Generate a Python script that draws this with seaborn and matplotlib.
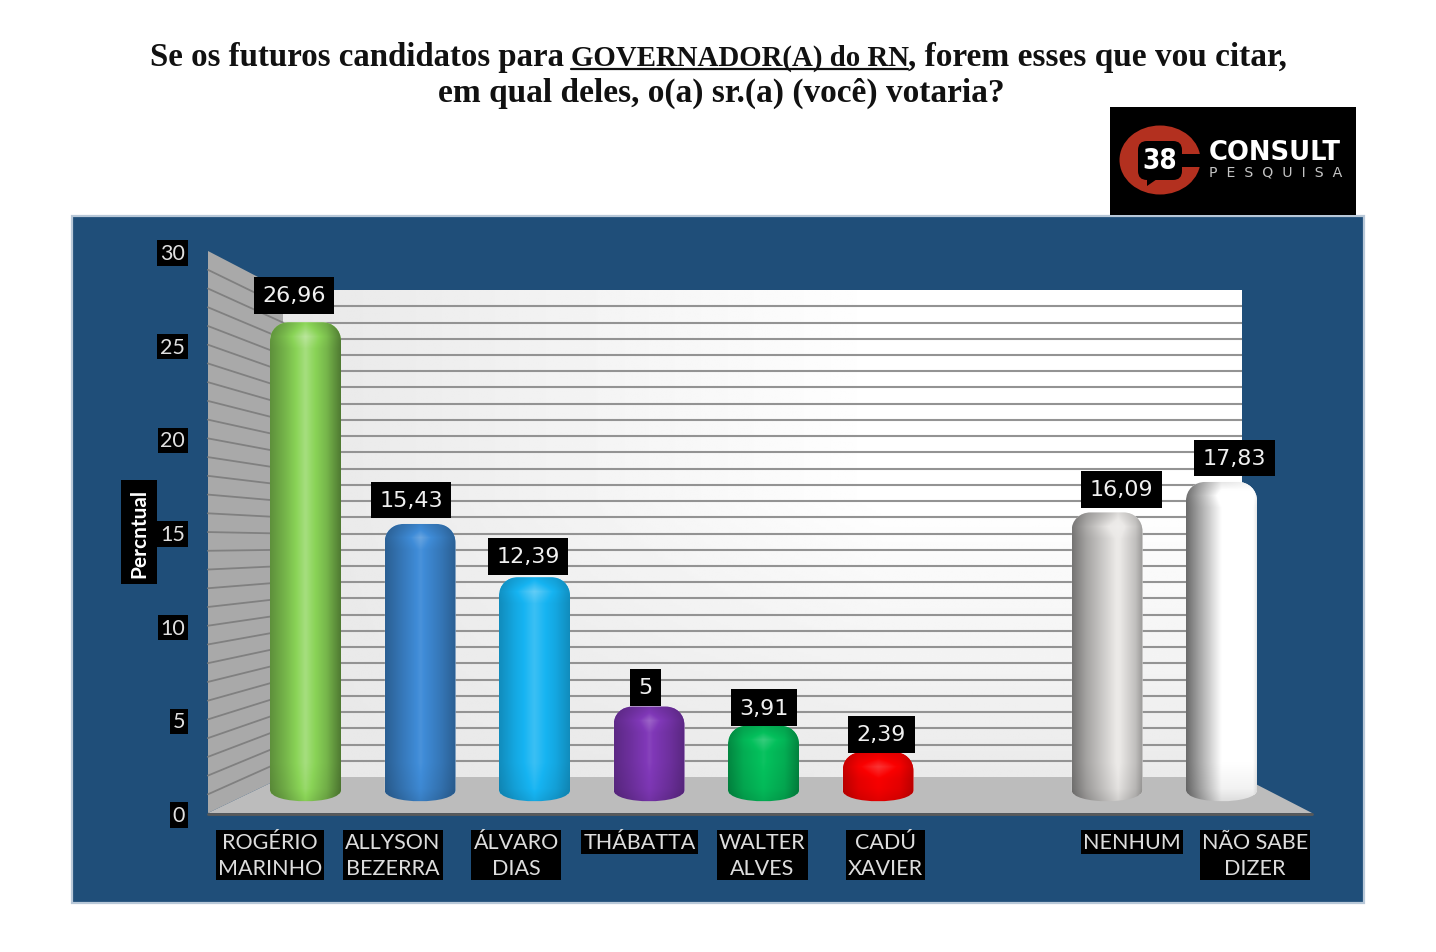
import numpy as np
import pandas as pd
import seaborn as sns
import matplotlib
matplotlib.use("Agg")
import matplotlib.pyplot as plt
from matplotlib.patches import Rectangle, Polygon, Ellipse, FancyBboxPatch, PathPatch
from matplotlib.path import Path

# ---- data ----
categories = ["ROGÉRIO\nMARINHO", "ALLYSON\nBEZERRA", "ÁLVARO\nDIAS", "THÁBATTA",
              "WALTER\nALVES", "CADÚ\nXAVIER", "NENHUM", "NÃO SABE\nDIZER"]
values = [26.96, 15.43, 12.39, 5, 3.91, 2.39, 16.09, 17.83]
value_labels = ["26,96", "15,43", "12,39", "5", "3,91", "2,39", "16,09", "17,83"]
axis_order = categories[:6] + [" "] + categories[6:]
tick_labels = [0, 5, 10, 15, 20, 25, 30]
grid_levels = list(range(1, 30))

# ---- styles ----
bar_colors = ["#8ad457", "#3f8cd8", "#16b4f2", "#8038b8", "#04c05c", "#fa0000", "#ebe9e7", "#ffffff"]
shade_stops = [
    ([0, .22, .5, .8, 1], [.68, .86, 1.12, .86, .58]),
    ([0, .22, .5, .8, 1], [.68, .84, 1.03, .84, .68]),
    ([0, .22, .5, .8, 1], [.78, .93, 1.08, .93, .78]),
    ([0, .22, .5, .8, 1], [.72, .85, 1.03, .85, .7]),
    ([0, .22, .5, .8, 1], [.7, .9, 1.02, .9, .68]),
    ([0, .22, .5, .8, 1], [.78, .95, 1.03, .95, .78]),
    ([0, .2, .65, .9, 1], [.5, .7, 1.02, .82, .66]),
    ([0, .2, .5, .95, 1], [.42, .66, 1.0, 1.0, .92]),
]
label_dx = [-11.5, -9, -6.5, -3.5, .5, 3.5, 14.5, 13]
label_dy = [27, 24, 21, 19, 18, 18, 23, 24]

PANEL = "#1f4e79"
W, H = 1436, 953
sns.set_theme(style="white")
SANS = ["Lato", "DejaVu Sans"]

fig = plt.figure(figsize=(W / 100, H / 100), dpi=100, facecolor="white")


def axes_px(x0, x1, y_top, y_bottom, **kw):
    return fig.add_axes([x0 / W, 1 - y_bottom / H, (x1 - x0) / W, (y_bottom - y_top) / H], **kw)


# ---- scene in pixel coordinates: panel, walls, floor, logo, title ----
scene = axes_px(0, W, 0, H, zorder=0)
scene.set_xlim(0, W)
scene.set_ylim(H, 0)
scene.axis("off")

scene.add_patch(Rectangle((72, 217), 1292, 687, fc=PANEL, ec="#b8c8d8", lw=1.6))


def front_y(k):
    return 814 - 18.73 * k


def back_y(k):
    return 778 - 16.23 * k


vv, uu = np.mgrid[1:0:200j, 0:1:400j]
wall_img = 0.91 + 0.09 * np.clip(uu * 1.6, 0, 1) * np.clip(vv * 1.6 + 0.1, 0, 1)
scene.imshow(wall_img, extent=(283, 1242, 778, 291), cmap="gray", vmin=0, vmax=1,
             aspect="auto", zorder=1)
scene.set_xlim(0, W)
scene.set_ylim(H, 0)
for k in grid_levels:
    scene.plot([283, 1242], [back_y(k)] * 2, color="#939393", lw=1.5, zorder=2, solid_capstyle="butt")
scene.add_patch(Polygon([(208, 252), (283, 291), (283, 778), (208, 814)], fc="#a9a9a9", ec="none", zorder=2))
for k in grid_levels:
    scene.plot([208, 283], [front_y(k), back_y(k)], color="#808080", lw=1.3, zorder=3)
scene.add_patch(Polygon([(283, 778), (1242, 778), (1312, 814), (208, 814)], fc="#bcbcbc", ec="none", zorder=3))
scene.plot([208, 1312], [815, 815], color="#5a5a5a", lw=2, zorder=4)

# logo
scene.add_patch(Rectangle((1110, 108), 246, 108, fc="black", ec="none", zorder=5))
scene.add_patch(Ellipse((1160, 161), 81, 69, fc="#b3301f", ec="none", zorder=6))
scene.add_patch(FancyBboxPatch((1144, 148), 32, 27, boxstyle="round,pad=6,rounding_size=9",
                               fc="black", ec="none", zorder=7))
scene.add_patch(Polygon([(1147, 178), (1147, 187), (1160, 178)], fc="black", ec="none", zorder=7))
scene.add_patch(Rectangle((1180, 155), 24, 13, fc="black", ec="none", zorder=7))
scene.text(1160, 161, "38", color="white", fontsize=20, fontweight="bold", family="DejaVu Sans",
           fontstretch="condensed", ha="center", va="center", zorder=8)
scene.text(1275, 153, "CONSULT", color="white", fontsize=18.6, fontweight="bold",
           family="DejaVu Sans", ha="center", va="center", zorder=8)
scene.text(1276, 172, "P  E  S  Q  U  I  S  A", color="#c4c4c4", fontsize=10.2, family="DejaVu Sans",
           ha="center", va="center", zorder=8)

# title: three runs on the first line so that each one spans what it spans in the reference
TITLE = dict(fontweight="bold", family="Liberation Serif", color="#111111", va="baseline", zorder=8)
scene.text(150, 66, "Se os futuros candidatos para ", ha="left", fontsize=23.7, **TITLE)
scene.text(571, 66, "GOVERNADOR(A) do RN", ha="left", fontsize=20.8, **TITLE)
scene.text(908, 66, ", forem esses que vou citar,", ha="left", fontsize=24, **TITLE)
scene.text(721, 102, "em qual deles, o(a) sr.(a) (você) votaria?", ha="center", fontsize=24, **TITLE)
scene.plot([571, 908], [69.5, 69.5], color="#111111", lw=1.6, zorder=8)

# ---- front plane: value axis and category labels ----
front = axes_px(208, 1312, 252, 814, zorder=1)
front.patch.set_alpha(0)
front.set_ylim(0, 30)
front.set_xlim((208 - 270) / 123.1, (1312 - 270) / 123.1)
for s in front.spines.values():
    s.set_visible(False)
front.set_yticks(tick_labels)
front.set_yticklabels([str(t) for t in tick_labels], fontsize=15.5, family=SANS, color="#e0e0e0",
                      bbox=dict(fc="black", ec="none", pad=2))
front.set_xticks(range(len(axis_order)))
front.set_xticklabels([c.strip() for c in axis_order], fontsize=15.5, family=SANS, color="#dddddd",
                      linespacing=1.38, bbox=dict(fc="black", ec="none", pad=1.5))
front.tick_params(axis="x", length=0, pad=13.5)
front.tick_params(axis="y", length=0, pad=16.5)
front.set_ylabel("Percntual", fontsize=15, fontweight="bold", family=SANS, color="white", labelpad=8,
                 bbox=dict(fc="black", ec="none", pad=5.5))

# ---- bars ----
PX_Y = 17.5      # pixels per percentage point
PX_X = 114.5     # pixels per category
ZERO_PX = 795
bars = axes_px(208, 1312, 252, 814, zorder=2)
bars.patch.set_alpha(0)
df = pd.DataFrame({"candidato": categories, "percentual": values})
palette = dict(zip(categories, bar_colors))
sns.barplot(data=df, x="candidato", y="percentual", hue="candidato", order=axis_order,
            hue_order=categories, palette=palette, saturation=1, width=0.62, legend=False, ax=bars)
xlim = ((208 - 305.5) / PX_X, (1312 - 305.5) / PX_X)
ylim = ((ZERO_PX - 814) / PX_Y, (ZERO_PX - 252) / PX_Y)


def cylinder(x0, x1, top):
    sx, sy, b0, d = 19 / PX_X, 19 / PX_Y, 4 / PX_Y, 15 / PX_Y
    v = [(x0, b0), (x0, b0 - d), (x1, b0 - d), (x1, b0), (x1, top - sy), (x1, top - .4 * sy), (x1 - .45 * sx, top),
         (x1 - sx, top), (x0 + sx, top), (x0 + .45 * sx, top), (x0, top - .4 * sy), (x0, top - sy), (x0, b0)]
    c = [Path.MOVETO, Path.CURVE4, Path.CURVE4, Path.CURVE4, Path.LINETO, Path.CURVE4, Path.CURVE4,
         Path.CURVE4, Path.LINETO, Path.CURVE4, Path.CURVE4, Path.CURVE4, Path.CLOSEPOLY]
    return Path(v, c)


for patch in list(bars.patches):
    if not patch.get_height() > 0:
        continue
    cx = patch.get_x() + patch.get_width() / 2
    name = axis_order[int(round(cx))]
    i = categories.index(name)
    x0, x1, top = patch.get_x(), patch.get_x() + patch.get_width(), patch.get_height()
    clip = PathPatch(cylinder(x0, x1, top), transform=bars.transData, fc="none", ec="none")
    bars.add_patch(clip)
    patch.set_clip_path(clip)

    # shaded cylinder surface, derived from the bar's own colour and extent
    low = -8 / PX_Y
    n_rows = int((top - low) * PX_Y)
    u = np.linspace(0, 1, 70)
    shade = np.interp(u, *shade_stops[i])
    base = np.array(matplotlib.colors.to_rgb(bar_colors[i]))
    depth = np.arange(n_rows)
    cap = np.interp(depth, [0, 6, 14, 26], [.9, .97, 1.08, 1.0])
    tail = np.interp(n_rows - depth, [0, 14, 40], [.86, .95, 1.0])
    centre = np.exp(-((u - .5) / .3) ** 2)
    grid = shade[None, :] * tail[:, None] * (1 + (cap[:, None] - 1) * (.4 + .6 * centre[None, :]))
    rgb = base[None, None, :] * np.minimum(grid, 1)[..., None]
    rgb = rgb + (1 - rgb) * np.clip(grid - 1, 0, 1)[..., None] * 2.0
    img = bars.imshow(np.clip(rgb, 0, 1), extent=(x0, x1, low, top), aspect="auto", origin="upper", zorder=3)
    img.set_clip_path(clip)

    bars.annotate(value_labels[i], xy=(cx, top), xytext=(label_dx[i] * .72, label_dy[i] * .72),
                  textcoords="offset points", ha="center", va="center", fontsize=16,
                  color="#f0f0f0", family="DejaVu Sans", zorder=5,
                  bbox=dict(fc="black", ec="none", pad=6))

bars.set_xlim(*xlim)
bars.set_ylim(*ylim)
bars.set_xlabel("")
bars.set_ylabel("")
bars.set_xticks([])
bars.set_yticks([])
for s in bars.spines.values():
    s.set_visible(False)

fig.savefig("out.png", dpi=100, facecolor="white")
